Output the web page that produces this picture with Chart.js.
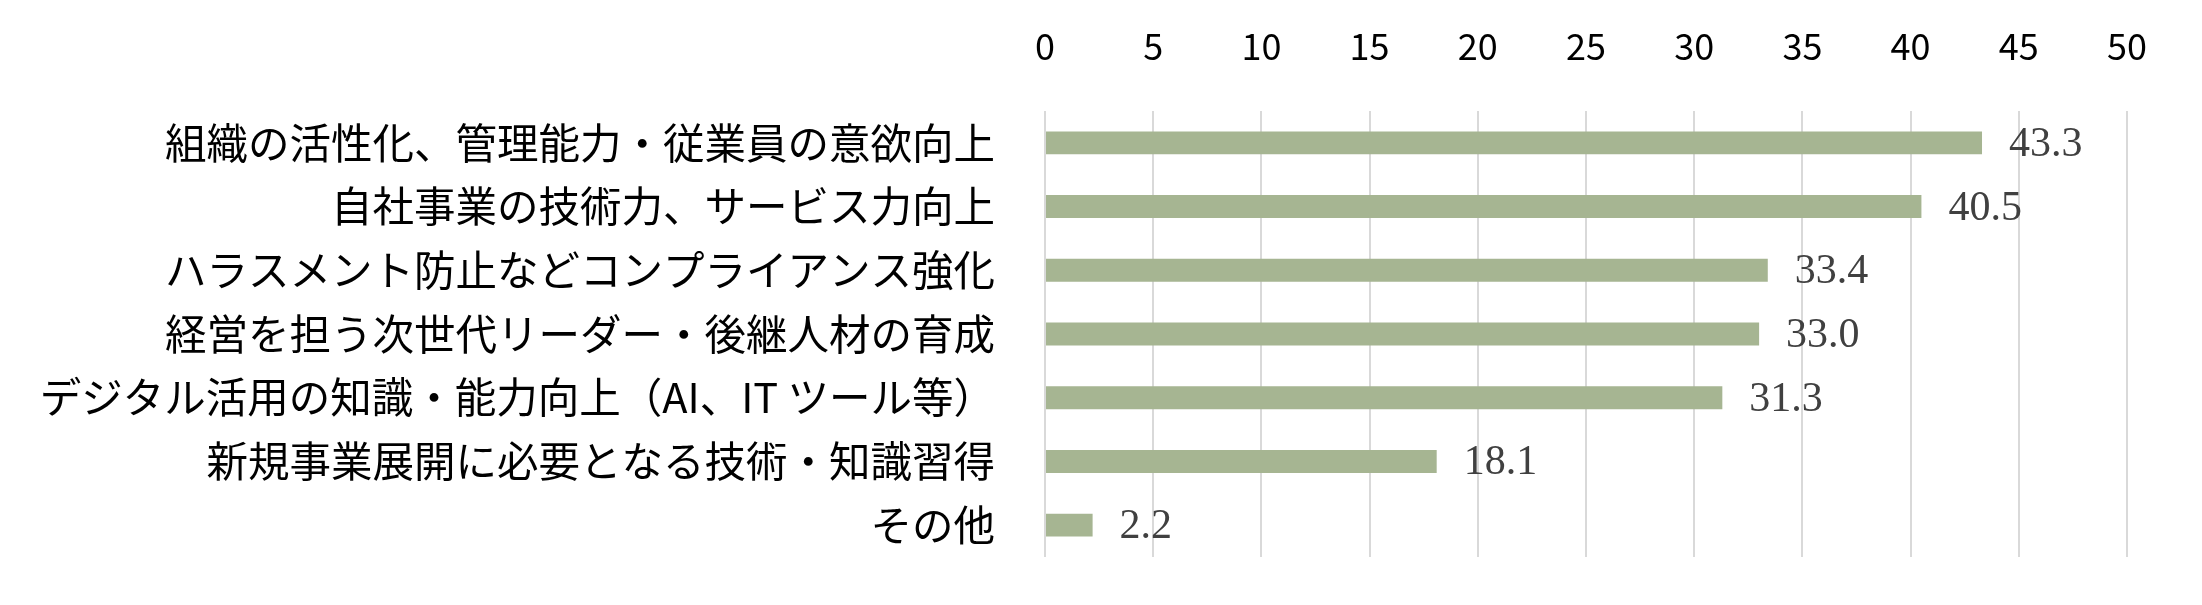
<!DOCTYPE html>
<html>
<head>
<meta charset="utf-8">
<script src="https://cdn.jsdelivr.net/npm/chart.js@4"></script>
<style>
  html, body { margin: 0; padding: 0; background: #ffffff; }
  #wrap { width: 2202px; height: 605px; }
</style>
</head>
<body>
<div id="wrap"><canvas id="chart" width="2202" height="605"></canvas></div>
<script>
// categories (top to bottom)
const categories = [
  "組織の活性化、管理能力・従業員の意欲向上",
  "自社事業の技術力、サービス力向上",
  "ハラスメント防止などコンプライアンス強化",
  "経営を担う次世代リーダー・後継人材の育成",
  "デジタル活用の知識・能力向上（AI、IT ツール等）",
  "新規事業展開に必要となる技術・知識習得",
  "その他"
];
// percentages
const values = [43.3, 40.5, 33.4, 33.0, 31.3, 18.1, 2.2];
// x axis range / ticks
const xMin = 0;
const xMax = 50;
const xStep = 5;

// draws the value next to each bar
const valueLabels = {
  id: "valueLabels",
  afterDatasetsDraw(chart) {
    const ctx = chart.ctx;
    const meta = chart.getDatasetMeta(0);
    ctx.save();
    ctx.font = "42px 'Liberation Serif', serif";
    ctx.fillStyle = "#404040";
    ctx.textAlign = "left";
    ctx.textBaseline = "middle";
    meta.data.forEach((bar, i) => {
      ctx.fillText(values[i].toFixed(1), bar.x + 27, bar.y + 2);
    });
    ctx.restore();
  }
};

const ctx = document.getElementById("chart").getContext("2d");
const chart = new Chart(ctx, {
  type: "bar",
  data: {
    labels: categories,
    datasets: [
      {
        data: values,
        backgroundColor: "#a6b592",
        borderWidth: 0,
        barPercentage: 0.36,
        categoryPercentage: 1.0
      }
    ]
  },
  options: {
    indexAxis: "y",
    responsive: false,
    animation: false,
    layout: {
      padding: { top: 18, right: 75, bottom: 48, left: 4 }
    },
    plugins: {
      legend: { display: false },
      tooltip: { enabled: false }
    },
    scales: {
      x: {
        position: "top",
        min: xMin,
        max: xMax,
        ticks: {
          stepSize: xStep,
          color: "#000000",
          font: { family: "'Noto Sans CJK JP'", size: 36 },
          padding: 43
        },
        grid: {
          color: "#d9d9d9",
          lineWidth: 2,
          drawTicks: false
        },
        border: { display: false },
        afterFit(scale) {
          scale.height = 93;
        }
      },
      y: {
        ticks: {
          color: "#000000",
          font: { family: "'Noto Sans CJK JP'", size: 41.5 },
          padding: 50
        },
        grid: { display: false, drawTicks: false },
        border: { display: false },
        afterFit(scale) {
          // keep the plot starting where the reference does
          scale.width = 1041;
          scale.paddingTop = 0;
          scale.paddingBottom = 0;
        }
      }
    }
  },
  plugins: [valueLabels]
});
</script>
</body>
</html>
